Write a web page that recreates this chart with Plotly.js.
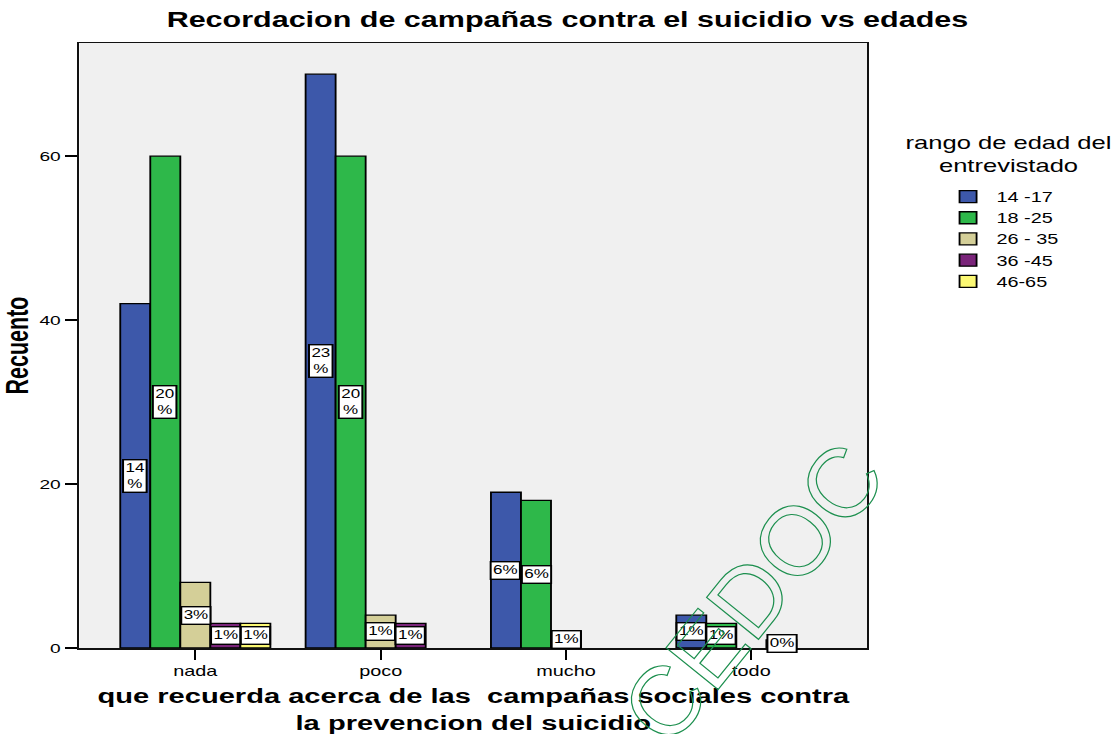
<!DOCTYPE html>
<html><head><meta charset="utf-8">
<script src="https://cdn.plot.ly/plotly-3.0.1.min.js"></script>
<style>
html,body{margin:0;padding:0;overflow:hidden;background:#fff;width:1117px;height:734px;}
#wrap{position:absolute;left:0;top:0;width:787px;height:734px;transform-origin:0 0;transform:scaleX(1.41931);}
#chart{width:787px;height:734px;}
#wm{position:absolute;left:753px;top:593px;transform:translate(-50%,-50%) rotate(-51deg);font-family:'Liberation Sans',Arial,sans-serif;font-size:97px;line-height:1;color:transparent;-webkit-text-stroke:1.2px #1c8f4e;white-space:nowrap;pointer-events:none;}
</style></head>
<body>
<div id="wrap"><div id="chart"></div></div>
<div id="wm">CEDOC</div>
<script>
const categories = ['nada', 'poco', 'mucho', 'todo'];
const ageGroups = ['14 -17', '18 -25', '26 - 35', '36 -45', '46-65'];
const counts1417 = [42, 70, 19, 4];
const counts1825 = [60, 60, 18, 3];
const counts2635 = [8, 4, 2, null];
const counts3645 = [3, 3, null, 1];
const counts4665 = [3, null, null, null];
const seriesColors = ['#3d58aa', '#2eb84a', '#d4cf98', '#7a247a', '#fbf873'];

const FONT = 'Liberation Sans, Arial, sans-serif';
const series = [counts1417, counts1825, counts2635, counts3645, counts4665];
const total = series.flat().reduce((s, v) => s + (v || 0), 0);
const bargap = 0.19;
const nSeries = series.length;

const traces = series.map((vals, k) => ({
  type: 'bar',
  name: ageGroups[k],
  x: categories,
  y: vals,
  marker: {color: seriesColors[k], line: {color: '#000', width: 1.3}},
  hoverinfo: 'x+y+name'
}));

const annotations = [];
series.forEach((vals, k) => {
  const off = -(1 - bargap) / 2 + (k + 0.5) * (1 - bargap) / nSeries;
  vals.forEach((v, i) => {
    if (v == null) return;
    const pct = Math.round(v / total * 100);
    annotations.push({
      xref: 'x', yref: 'y', x: i + off, y: v / 2,
      text: pct >= 10 ? pct + '<br>%' : pct + '%',
      showarrow: false,
      font: {family: FONT, size: 12, color: '#000'},
      bgcolor: '#fff', bordercolor: '#000', borderwidth: 1.4, borderpad: 1,
      xanchor: 'center', yanchor: 'middle'
    });
  });
});

annotations.push({
  xref: 'paper', yref: 'paper', x: 1.1793, y: (648 - 155) / 605,
  text: 'rango de edad del<br>entrevistado', showarrow: false,
  font: {family: FONT, size: 18, color: '#000'},
  xanchor: 'center', yanchor: 'middle', align: 'center'
});

const layout = {
  width: 787, height: 734,
  margin: {l: 56, r: 176, t: 43, b: 86},
  paper_bgcolor: '#fff', plot_bgcolor: '#f0f0f0',
  barmode: 'group', bargap: bargap, bargroupgap: 0,
  title: {
    text: 'Recordacion de campañas contra el suicidio vs edades',
    font: {family: FONT, size: 21.5, color: '#000', weight: 'bold'},
    xref: 'container', x: 0.508, xanchor: 'center',
    yref: 'container', y: 1 - 19 / 734, yanchor: 'middle'
  },
  xaxis: {
    type: 'category', range: [-0.625, 3.625],
    showline: true, mirror: true, linecolor: '#111', linewidth: 1.5,
    ticks: 'outside', ticklen: 10, tickwidth: 1.5, tickcolor: '#000',
    tickfont: {family: FONT, size: 14, color: '#000'},
    showgrid: false, zeroline: false,
    title: {
      text: 'que recuerda acerca de las  campañas sociales contra<br>la prevencion del suicidio',
      font: {family: FONT, size: 20.5, color: '#000', weight: 'bold'},
      standoff: 10
    }
  },
  yaxis: {
    range: [0, 73.8], dtick: 20, tick0: 0,
    showline: true, mirror: true, linecolor: '#111', linewidth: 1.5,
    ticks: 'outside', ticklen: 9, tickwidth: 1.3, tickcolor: '#000',
    tickfont: {family: FONT, size: 13.5, color: '#000'},
    showgrid: false, zeroline: false,
    title: {
      text: 'Recuento',
      font: {family: FONT, size: 21.5, color: '#000', weight: 'bold'},
      standoff: 1
    }
  },
  legend: {
    x: 1.092, xanchor: 'left', y: 0.772, yanchor: 'top',
    font: {family: FONT, size: 14, color: '#000'},
    bgcolor: 'rgba(0,0,0,0)', borderwidth: 0, tracegroupgap: 0,
    traceorder: 'normal'
  },
  showlegend: true,
  annotations: annotations
};

Plotly.newPlot('chart', traces, layout, {displayModeBar: false, staticPlot: true});
</script>
</body></html>
